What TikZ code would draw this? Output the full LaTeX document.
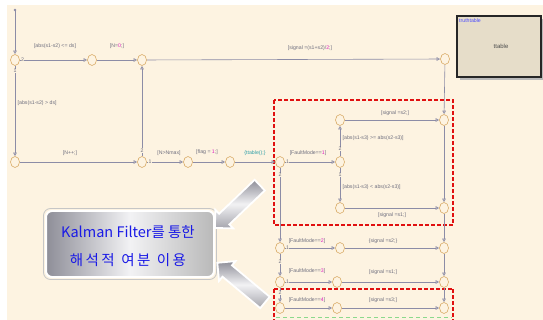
\documentclass[tikz,border=0pt]{standalone}
\usepackage{fontspec}
\newfontfamily\lab{Liberation Sans}
\newfontfamily\kr{Noto Sans CJK KR}
\usetikzlibrary{shapes.geometric,shapes.arrows,arrows.meta}
\definecolor{bg}{HTML}{FDF3E1}
\definecolor{lncol}{HTML}{8C8CA6}
\definecolor{jcol}{HTML}{D8A862}
\definecolor{txcol}{HTML}{6E6E7E}
\definecolor{mag}{HTML}{E020C0}
\definecolor{teal}{HTML}{30A0A8}
\definecolor{ttfill}{HTML}{E6DDC9}
\definecolor{kblue}{HTML}{1A1AE6}
\definecolor{redd}{HTML}{E01010}
\definecolor{metd}{HTML}{8E8E98}
\definecolor{metl}{HTML}{F2F2F4}
\tikzset{
  jn/.style={ellipse, draw=jcol, fill=bg, minimum width=9pt, minimum height=11pt, inner sep=0pt, line width=0.6pt},
  tr/.style={draw=lncol, line width=0.6pt, -{Triangle[open,length=3.5pt,width=3.5pt]}},
  lb/.style={text=txcol, font=\lab\fontsize{5.2}{6}\selectfont, inner sep=0.5pt},
  pr/.style={lb, fill=bg, inner sep=0.3pt},
  redbox/.style={draw=redd, line width=1.3pt, dash pattern=on 4pt off 2pt},
  fat/.style={single arrow, draw=white, line width=1.8pt, top color=metd, bottom color=metd!80, middle color=metl, minimum height=62pt, inner xsep=0pt, inner ysep=6.5pt, single arrow head extend=5.5pt, single arrow head indent=0pt, text width=0pt}
}
\begin{document}
\begin{tikzpicture}[x=1pt,y=-1pt]
\useasboundingbox (0,0) rectangle (543,320);
\fill[white] (0,0) rectangle (543,320);
\fill[bg] (7,5) rectangle (543,320);

% truth table
\fill[gray!55] (460,19) rectangle (543,80);
\node[draw=black!85, line width=1.2pt, fill=ttfill, minimum width=84pt, minimum height=61pt, inner sep=0pt] (tt) at (499,46.5) {};
\node[lb, text=blue!70!white, anchor=north west] (ttl) at (458.5,18) {truthtable};
\node[lb, text=black!70, font=\lab\fontsize{6}{7}\selectfont] (ttn) at (501,46) {ttable};

% red dashed boxes
\draw[redbox] (274,100) rectangle (453,225);
\draw[redbox] (274,289) -- (274,322) (453,289) -- (453,322) (274,289) -- (453,289);
\draw[green!50!gray!60, line width=0.8pt, dash pattern=on 4pt off 3pt] (276,317) -- (452,317);

% junctions
\fill[lncol] (15,10) circle (1.3pt);
\coordinate (d0) at (15,10);
\node[jn] (j1) at (15,60) {};
\node[jn] (j2) at (92,60) {};
\node[jn] (j3) at (142,60) {};
\node[jn] (j4) at (445,59) {};
\node[jn] (b1) at (15,162) {};
\node[jn] (b2) at (142,162) {};
\node[jn] (b3) at (188,162) {};
\node[jn] (b4) at (230,162) {};
\node[jn] (f0) at (280,162) {};
\node[jn] (m1) at (340,120) {};
\node[jn] (m2) at (340,162) {};
\node[jn] (m3) at (340,208) {};
\node[jn] (r1) at (444,120) {};
\node[jn] (r2) at (444,208) {};
\node[jn] (f2) at (280,248) {};
\node[jn] (g2) at (340,248) {};
\node[jn] (h2) at (444,248) {};
\node[jn] (f3) at (280,282) {};
\node[jn] (g3) at (337,282) {};
\node[jn] (h3) at (444,282) {};
\node[jn] (f4) at (280,308) {};
\node[jn] (g4) at (337,308) {};
\node[jn] (h4) at (444,308) {};

% transitions
\draw[tr] (d0) -- (j1);
\draw[tr] (j1) -- (j2);
\draw[tr] (j2) -- (j3);
\draw[tr] (j3) -- (j4);
\draw[tr] (j1) -- (b1);
\draw[tr] (b1) -- (b2);
\draw[tr] (b2) -- (j3);
\draw[tr] (b2) -- (b3);
\draw[tr] (b3) -- (b4);
\draw[tr] (b4) -- (f0);
\draw[tr] (f0) -- (m2);
\draw[tr] (m2) -- (m1);
\draw[tr] (m2) -- (m3);
\draw[tr] (m1) -- (r1);
\draw[tr] (m3) -- (r2);
\draw[tr] (j4) -- (r1);
\draw[tr] (r1) -- (r2);
\draw[tr] (r2) -- (h2);
\draw[tr] (h2) -- (h3);
\draw[tr] (h3) -- (h4);
\draw[tr] (f0) -- (f2);
\draw[tr] (f2) -- (f3);
\draw[tr] (f3) -- (f4);
\draw[tr] (f2) -- (g2);
\draw[tr] (g2) -- (h2);
\draw[tr] (f3) -- (g3);
\draw[tr] (g3) -- (h3);
\draw[tr] (f4) -- (g4);
\draw[tr] (g4) -- (h4);

% priority numbers
\node[pr] (p1) at (22.5,60) {2};
\node[pr] (p2) at (15,71) {1};
\node[pr] (p3) at (142,150.5) {2};
\node[pr] (p4) at (150,162) {1};
\node[pr] (p5) at (287.5,162) {1};
\node[pr] (p6) at (280,175) {2};
\node[pr] (p7) at (340,149) {2};
\node[pr] (p8) at (340,175) {1};
\node[pr] (p9) at (287.5,248) {1};
\node[pr] (p10) at (280,262) {2};
\node[pr] (p11) at (287.5,282) {1};
\node[pr] (p12) at (280,293) {2};

% labels
\node[lb] (l1) at (55,46) {[abs(s1-s2) <= ds]};
\node[lb] (l2) at (117,46) {[N=\textcolor{mag}{0};]};
\node[lb] (l3) at (310,48) {[signal =(s1+s2)/\textcolor{mag}{2};]};
\node[lb, anchor=west] (l4) at (17,103) {[abs(s1-s2) > ds]};
\node[lb] (l5) at (70,153) {[N++;]};
\node[lb] (l6) at (169,153) {[N>Nmax]};
\node[lb] (l7) at (207,152) {[flag = \textcolor{mag}{1};]};
\node[lb, text=teal] (l8) at (255,153) {\{ttable();\}};
\node[lb] (l9) at (308,153) {[FaultMode==\textcolor{mag}{1}]};
\node[lb, anchor=west] (l10) at (342,138) {[abs(s1-s3) >= abs(s2-s3)]};
\node[lb, anchor=west] (l11) at (342,187) {[abs(s1-s3) < abs(s2-s3)]};
\node[lb] (l12) at (395,113) {[signal =s2;]};
\node[lb] (l13) at (392,215) {[signal =s1;]};
\node[lb] (l14) at (307,241) {[FaultMode==\textcolor{mag}{2}]};
\node[lb] (l15) at (383,241) {\{signal =s2;\}};
\node[lb] (l16) at (307,271) {[FaultMode==\textcolor{mag}{3}]};
\node[lb] (l17) at (383,272) {[signal =s1;]};
\node[lb] (l18) at (307,300) {[FaultMode==\textcolor{mag}{4}]};
\node[lb] (l19) at (383,300) {[signal =s3;]};

% callout
\draw[gray!45, line width=0.8pt, rounded corners=7pt] (43.5,208.5) rectangle (216.5,279.5);
\node[draw=white, line width=2pt, rounded corners=6pt, left color=metd, right color=gray!55, middle color=metl, minimum width=168pt, minimum height=66pt, inner sep=0pt] (kf) at (130,244) {};
\node[text=kblue, font=\kr\fontsize{14.5}{28}\selectfont, align=center] (kft) at (128,246) {Kalman Filter를 통한\\해\,석\,적\ \ 여\,분\ \ 이\,용};

% fat arrows
\node[fat, rotate=223.7] (ar1) at (240,204) {};
\node[fat, rotate=140.2] (ar2) at (244,285) {};
\end{tikzpicture}
\end{document}
